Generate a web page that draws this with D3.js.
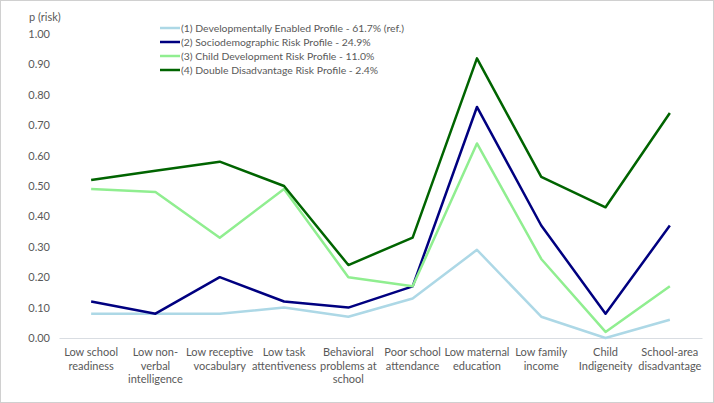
<!DOCTYPE html>
<html><head><meta charset="utf-8">
<script src="https://cdn.jsdelivr.net/npm/d3@7"></script>
<style>
html,body{margin:0;padding:0;background:#fff;}
svg{display:block;font-family:Lato,"Open Sans",sans-serif;}
</style></head>
<body>
<svg id="chart" width="714" height="403"></svg>
<script>
const categories = [
  ["Low school","readiness"],
  ["Low non-","verbal","intelligence"],
  ["Low receptive","vocabulary"],
  ["Low task","attentiveness"],
  ["Behavioral","problems at","school"],
  ["Poor school","attendance"],
  ["Low maternal","education"],
  ["Low family","income"],
  ["Child","Indigeneity"],
  ["School-area","disadvantage"]
];
const seriesNames = [
  "(1) Developmentally Enabled Profile - 61.7% (ref.)",
  "(2) Sociodemographic Risk Profile - 24.9%",
  "(3) Child Development Risk Profile - 11.0%",
  "(4) Double Disadvantage Risk Profile - 2.4%"
];
const s1 = [0.08, 0.08, 0.08, 0.10, 0.07, 0.13, 0.29, 0.07, 0.00, 0.06];
const s2 = [0.12, 0.08, 0.20, 0.12, 0.10, 0.17, 0.76, 0.37, 0.08, 0.37];
const s3 = [0.49, 0.48, 0.33, 0.49, 0.20, 0.17, 0.64, 0.26, 0.02, 0.17];
const s4 = [0.52, 0.55, 0.58, 0.50, 0.24, 0.33, 0.92, 0.53, 0.43, 0.74];
const yTicks = [0,0.1,0.2,0.3,0.4,0.5,0.6,0.7,0.8,0.9,1.0];
const colors = ["#add8e6","#000080","#90ee90","#006400"];
const allSeries = [s1,s2,s3,s4];

const svg = d3.select("#chart");
svg.append("rect").attr("x",0.5).attr("y",0.5).attr("width",713).attr("height",402)
  .attr("fill","#fff").attr("stroke","#d0d0d0");

const x = d3.scaleBand().domain(d3.range(categories.length)).range([59,702]);
const y = d3.scaleLinear().domain([0,1]).range([338,34]);

const yAxis = d3.axisLeft(y).tickValues(yTicks).tickFormat(d3.format(".2f")).tickSize(0).tickPadding(0);
const gy = svg.append("g").attr("transform","translate(50,0)").call(yAxis);
gy.select(".domain").remove();
gy.selectAll("text").attr("fill","#595959").style("font-size","11px").style("font-family","Lato,'Open Sans',sans-serif");

svg.append("text").attr("x",29).attr("y",21).attr("fill","#595959")
  .style("font-size","11px").text("p (risk)");

const xAxis = d3.axisBottom(x).tickSize(0).tickFormat("");
const gx = svg.append("g").attr("transform","translate(0,338)").call(xAxis);
gx.select(".domain").attr("stroke","#d9dde2").attr("stroke-width",1);

categories.forEach((lines,i)=>{
  const t = svg.append("text").attr("text-anchor","middle").attr("fill","#595959")
    .style("font-size","11px").attr("x", x(i)+x.bandwidth()/2).attr("y",356);
  lines.forEach((l,j)=>{
    t.append("tspan").attr("x", x(i)+x.bandwidth()/2).attr("dy", j===0?0:13.5).text(l);
  });
});

const line = d3.line().x((d,i)=>x(i)+x.bandwidth()/2).y(d=>y(d));
allSeries.forEach((s,k)=>{
  svg.append("path").datum(s).attr("d",line).attr("fill","none")
    .attr("stroke",colors[k]).attr("stroke-width",2.5).attr("stroke-linejoin","round");
});

const lg = svg.append("g");
seriesNames.forEach((n,k)=>{
  const yy = 28 + k*14;
  lg.append("line").attr("x1",160).attr("x2",180).attr("y1",yy).attr("y2",yy)
    .attr("stroke",colors[k]).attr("stroke-width",2.5);
  lg.append("text").attr("x",181).attr("y",yy+4).attr("fill","#595959")
    .style("font-size","10.4px").text(n);
});
</script>
</body></html>
